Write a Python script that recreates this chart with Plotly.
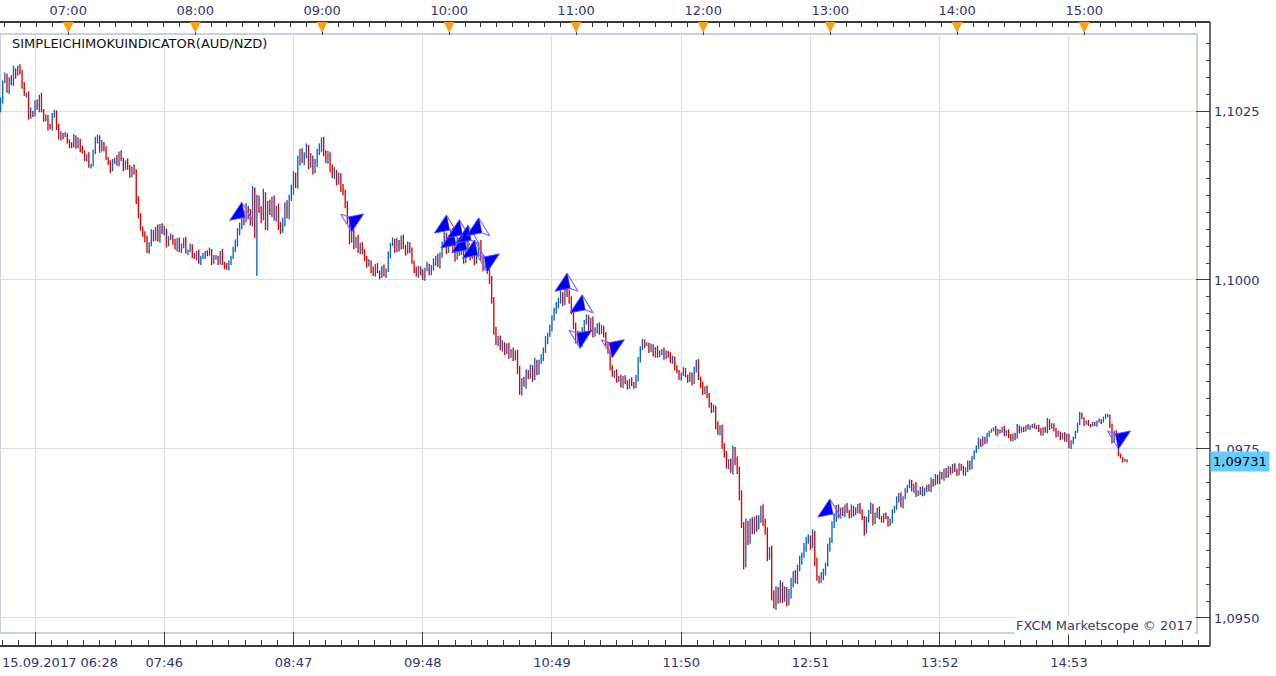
import plotly.graph_objects as go

# ---------------- data ----------------
first_open = 1.10251
closes = [
    1.10266, 1.10293, 1.10302, 1.10281, 1.10299, 1.10290, 1.10311, 1.10303, 1.10314, 1.10308,
    1.10288, 1.10274, 1.10275, 1.10240, 1.10249, 1.10246, 1.10263, 1.10254, 1.10272, 1.10251,
    1.10238, 1.10241, 1.10226, 1.10225, 1.10246, 1.10249, 1.10225, 1.10210, 1.10216, 1.10213,
    1.10214, 1.10206, 1.10200, 1.10198, 1.10213, 1.10198, 1.10207, 1.10194, 1.10189, 1.10180,
    1.10183, 1.10169, 1.10170, 1.10189, 1.10207, 1.10212, 1.10192, 1.10203, 1.10195, 1.10180,
    1.10173, 1.10163, 1.10176, 1.10180, 1.10172, 1.10188, 1.10178, 1.10166, 1.10175, 1.10167,
    1.10155, 1.10166, 1.10160, 1.10118, 1.10096, 1.10077, 1.10067, 1.10062, 1.10044, 1.10053,
    1.10071, 1.10062, 1.10077, 1.10059, 1.10080, 1.10071, 1.10074, 1.10052, 1.10062, 1.10065,
    1.10056, 1.10047, 1.10059, 1.10044, 1.10052, 1.10059, 1.10041, 1.10044, 1.10050, 1.10037,
    1.10033, 1.10041, 1.10027, 1.10033, 1.10035, 1.10041, 1.10038, 1.10044, 1.10027, 1.10033,
    1.10033, 1.10027, 1.10041, 1.10024, 1.10021, 1.10018, 1.10027, 1.10033, 1.10044, 1.10056,
    1.10071, 1.10081, 1.10098, 1.10089, 1.10107, 1.10096, 1.10086, 1.10133, 1.10071, 1.10118,
    1.10104, 1.10092, 1.10126, 1.10080, 1.10111, 1.10101, 1.10118, 1.10092, 1.10107, 1.10081,
    1.10074, 1.10086, 1.10111, 1.10096, 1.10121, 1.10133, 1.10155, 1.10141, 1.10177, 1.10189,
    1.10177, 1.10185, 1.10195, 1.10170, 1.10180, 1.10163, 1.10173, 1.10189, 1.10195, 1.10207,
    1.10189, 1.10177, 1.10185, 1.10166, 1.10155, 1.10160, 1.10145, 1.10154, 1.10136, 1.10130,
    1.10111, 1.10086, 1.10059, 1.10071, 1.10050, 1.10062, 1.10044, 1.10052, 1.10041, 1.10033,
    1.10022, 1.10027, 1.10015, 1.10009, 1.10021, 1.10012, 1.10006, 1.10018, 1.10007, 1.10015,
    1.10037, 1.10052, 1.10059, 1.10044, 1.10056, 1.10047, 1.10062, 1.10050, 1.10041, 1.10053,
    1.10044, 1.10027, 1.10015, 1.10007, 1.10018, 1.10012, 1.10003, 1.10015, 1.10022, 1.10012,
    1.10018, 1.10027, 1.10033, 1.10022, 1.10037, 1.10052, 1.10067, 1.10044, 1.10056, 1.10071,
    1.10047, 1.10033, 1.10059, 1.10041, 1.10052, 1.10030, 1.10062, 1.10044, 1.10035, 1.10050,
    1.10027, 1.10044, 1.10053, 1.10033, 1.10018, 1.10027, 1.10012, 1.10000, 1.09970, 1.09926,
    1.09908, 1.09914, 1.09899, 1.09905, 1.09893, 1.09902, 1.09889, 1.09896, 1.09885, 1.09893,
    1.09867, 1.09834, 1.09852, 1.09845, 1.09864, 1.09858, 1.09870, 1.09855, 1.09879, 1.09864,
    1.09879, 1.09885, 1.09896, 1.09911, 1.09919, 1.09929, 1.09944, 1.09953, 1.09963, 1.09970,
    1.09978, 1.09967, 1.09988, 1.09982, 1.09970, 1.09953, 1.09933, 1.09911, 1.09919, 1.09904,
    1.09926, 1.09938, 1.09944, 1.09929, 1.09941, 1.09919, 1.09926, 1.09933, 1.09923, 1.09929,
    1.09919, 1.09904, 1.09896, 1.09870, 1.09860, 1.09864, 1.09852, 1.09855, 1.09845, 1.09855,
    1.09849, 1.09843, 1.09852, 1.09846, 1.09843, 1.09855, 1.09882, 1.09899, 1.09908, 1.09904,
    1.09905, 1.09896, 1.09902, 1.09889, 1.09899, 1.09888, 1.09893, 1.09896, 1.09885, 1.09893,
    1.09889, 1.09879, 1.09885, 1.09870, 1.09864, 1.09855, 1.09861, 1.09867, 1.09858, 1.09852,
    1.09860, 1.09849, 1.09867, 1.09879, 1.09855, 1.09845, 1.09834, 1.09840, 1.09830, 1.09815,
    1.09808, 1.09811, 1.09785, 1.09775, 1.09781, 1.09756, 1.09741, 1.09726, 1.09731, 1.09719,
    1.09749, 1.09731, 1.09719, 1.09682, 1.09638, 1.09581, 1.09638, 1.09615, 1.09642, 1.09630,
    1.09645, 1.09636, 1.09648, 1.09660, 1.09642, 1.09627, 1.09592, 1.09601, 1.09533, 1.09519,
    1.09541, 1.09527, 1.09549, 1.09530, 1.09541, 1.09524, 1.09535, 1.09553, 1.09564, 1.09556,
    1.09574, 1.09586, 1.09593, 1.09604, 1.09615, 1.09618, 1.09608, 1.09624, 1.09583, 1.09559,
    1.09556, 1.09562, 1.09568, 1.09579, 1.09604, 1.09615, 1.09638, 1.09648, 1.09663, 1.09651,
    1.09660, 1.09654, 1.09666, 1.09657, 1.09651, 1.09663, 1.09654, 1.09660, 1.09667, 1.09657,
    1.09648, 1.09627, 1.09645, 1.09657, 1.09667, 1.09642, 1.09652, 1.09660, 1.09648, 1.09645,
    1.09652, 1.09648, 1.09639, 1.09645, 1.09657, 1.09663, 1.09675, 1.09682, 1.09667, 1.09678,
    1.09689, 1.09695, 1.09701, 1.09689, 1.09697, 1.09682, 1.09686, 1.09692, 1.09683, 1.09689,
    1.09695, 1.09689, 1.09704, 1.09698, 1.09710, 1.09701, 1.09713, 1.09707, 1.09719, 1.09710,
    1.09722, 1.09716, 1.09725, 1.09719, 1.09713, 1.09726, 1.09722, 1.09713, 1.09719, 1.09731,
    1.09722, 1.09737, 1.09746, 1.09752, 1.09763, 1.09756, 1.09766, 1.09760, 1.09771, 1.09775,
    1.09778, 1.09781, 1.09772, 1.09778, 1.09775, 1.09781, 1.09771, 1.09777, 1.09769, 1.09763,
    1.09772, 1.09766, 1.09784, 1.09775, 1.09781, 1.09778, 1.09784, 1.09780, 1.09783, 1.09786,
    1.09781, 1.09784, 1.09778, 1.09772, 1.09781, 1.09775, 1.09793, 1.09781, 1.09786, 1.09778,
    1.09769, 1.09775, 1.09766, 1.09772, 1.09763, 1.09771, 1.09752, 1.09760, 1.09766, 1.09775,
    1.09787, 1.09802, 1.09796, 1.09787, 1.09790, 1.09786, 1.09784, 1.09788, 1.09786, 1.09791,
    1.09793, 1.09790, 1.09796, 1.09799, 1.09800, 1.09784, 1.09760, 1.09775, 1.09772, 1.09741,
    1.09737, 1.09732, 1.09734, 1.09731,
]
# wick lengths beyond the body, in points (0.00001)
upper_wick_pts = [
    4, 2, 5, 3, 1, 4, 6, 2, 3, 5,  3, 5, 2, 4, 6, 1, 3, 4, 2, 5,
    2, 4, 3, 5, 1, 3, 2, 6, 4, 2,  5, 3, 2, 4, 3, 1, 4, 2, 5, 3,
    3, 6, 2, 4, 5, 3, 2, 4, 1, 3,  2, 4, 3, 1, 5, 2, 4, 3, 2, 5,
    3, 2, 5, 4, 6, 3, 2, 5, 4, 3,  4, 3, 2, 5, 3, 4, 6, 2, 3, 4,
    2, 5, 3, 4, 2, 3, 5, 1, 4, 3,  3, 2, 4, 3, 5, 2, 3, 4, 2, 4,
    4, 3, 2, 5, 3, 4, 2, 3, 5, 4,  6, 4, 8, 5, 7, 3, 9, 6, 4, 8,
    7, 5, 9, 4, 6, 8, 5, 7, 3, 6,  5, 6, 4, 7, 5, 8, 6, 4, 7, 5,
    6, 4, 7, 5, 8, 4, 6, 5, 7, 4,  5, 3, 6, 4, 5, 7, 3, 5, 4, 6,
    4, 6, 3, 5, 4, 2, 5, 3, 4, 5,  3, 4, 2, 5, 3, 4, 2, 3, 5, 2,
    5, 3, 4, 2, 6, 3, 4, 5, 2, 4,  3, 4, 2, 5, 3, 2, 4, 3, 5, 2,
    4, 5, 3, 6, 4, 5, 7, 3, 5, 4,  6, 4, 5, 3, 7, 4, 5, 6, 3, 5,
    4, 5, 3, 6, 4, 3, 5, 4, 6, 5,  5, 3, 4, 6, 3, 4, 5, 2, 4, 3,
    4, 6, 3, 5, 4, 3, 5, 4, 6, 3,  3, 5, 4, 6, 3, 5, 4, 6, 5, 4,
    6, 4, 7, 5, 4, 6, 5, 4, 6, 5,  4, 3, 5, 4, 3, 5, 4, 3, 4, 5,
    3, 4, 5, 3, 4, 2, 4, 3, 5, 3,  4, 3, 2, 4, 3, 5, 4, 3, 5, 4,
    3, 2, 4, 3, 2, 4, 3, 2, 4, 3,  2, 4, 3, 2, 4, 3, 2, 4, 3, 2,
    4, 3, 5, 3, 4, 2, 5, 3, 4, 3,  4, 5, 3, 6, 4, 5, 3, 6, 4, 5,
    6, 4, 8, 5, 7, 4, 9, 6, 5, 7,  5, 7, 4, 6, 8, 5, 7, 4, 6, 8,
    6, 5, 7, 4, 6, 5, 8, 6, 5, 7,  5, 6, 4, 7, 5, 6, 4, 7, 5, 6,
    4, 6, 5, 3, 6, 4, 5, 7, 4, 5,  3, 4, 2, 4, 3, 5, 3, 4, 2, 3,
    4, 3, 5, 3, 4, 2, 4, 3, 5, 3,  3, 4, 3, 2, 4, 3, 5, 3, 4, 2,
    3, 2, 4, 3, 2, 4, 3, 2, 3, 4,  2, 3, 4, 2, 3, 2, 4, 3, 2, 3,
    3, 2, 3, 4, 2, 3, 2, 3, 4, 2,  2, 3, 2, 3, 4, 2, 3, 2, 3, 2,
    2, 1, 3, 2, 1, 2, 3, 1, 2, 3,  1, 2, 3, 1, 2, 2, 1, 3, 2, 1,
    2, 1, 2, 3, 1, 2, 3, 1, 2, 2,  3, 2, 1, 2, 3, 2, 1, 3, 2, 2,
    2, 3, 2, 1, 2, 3, 1, 2, 2, 1,  2, 1, 2, 3, 2, 1, 3, 2, 3, 2,
    2, 1, 2, 1,
]
lower_wick_pts = [
    3, 5, 2, 4, 6, 2, 3, 5, 1, 4,  5, 2, 4, 3, 2, 5, 4, 2, 6, 3,
    4, 3, 5, 2, 4, 6, 3, 2, 4, 5,  2, 4, 5, 3, 2, 4, 3, 5, 2, 4,
    5, 3, 4, 2, 3, 5, 4, 2, 5, 3,  3, 5, 2, 4, 3, 4, 2, 5, 3, 4,
    4, 3, 4, 6, 5, 4, 3, 6, 4, 5,  3, 5, 4, 2, 4, 3, 5, 4, 2, 3,
    4, 2, 5, 3, 4, 5, 2, 4, 3, 5,  2, 4, 3, 5, 2, 4, 3, 2, 5, 3,
    3, 5, 4, 2, 5, 3, 4, 5, 2, 3,  7, 5, 6, 8, 4, 6, 5, 7, 9, 6,
    5, 8, 4, 6, 7, 5, 8, 4, 6, 7,  6, 4, 7, 5, 6, 4, 7, 5, 6, 8,
    4, 7, 5, 6, 4, 7, 5, 6, 4, 6,  6, 4, 5, 7, 4, 6, 5, 4, 6, 5,
    5, 3, 6, 4, 5, 3, 4, 6, 3, 5,  4, 2, 5, 3, 4, 2, 5, 3, 2, 4,
    3, 5, 2, 4, 3, 5, 2, 4, 5, 3,  4, 3, 5, 2, 4, 5, 3, 4, 2, 5,
    5, 4, 6, 3, 5, 4, 3, 6, 4, 5,  4, 6, 3, 5, 4, 6, 5, 3, 6, 4,
    5, 3, 6, 4, 5, 4, 3, 6, 5, 7,  4, 6, 3, 5, 4, 3, 6, 4, 5, 4,
    6, 4, 5, 3, 6, 5, 4, 6, 3, 5,  4, 3, 5, 4, 6, 3, 5, 4, 3, 5,
    5, 6, 4, 7, 5, 4, 6, 5, 7, 4,  3, 5, 4, 3, 5, 4, 3, 5, 4, 3,
    4, 3, 5, 4, 3, 5, 4, 3, 4, 5,  3, 5, 4, 3, 4, 3, 5, 4, 3, 5,
    2, 4, 3, 2, 4, 3, 2, 4, 3, 2,  4, 2, 3, 4, 2, 3, 4, 3, 2, 4,
    3, 5, 3, 4, 3, 5, 4, 3, 5, 4,  5, 4, 6, 4, 5, 6, 4, 5, 6, 4,
    7, 5, 6, 8, 5, 9, 6, 7, 5, 6,  6, 8, 5, 7, 6, 4, 8, 6, 7, 5,
    7, 6, 5, 8, 6, 7, 5, 6, 8, 5,  6, 5, 7, 4, 6, 5, 7, 5, 6, 4,
    5, 4, 6, 5, 3, 6, 4, 5, 6, 4,  4, 3, 5, 2, 4, 3, 4, 2, 5, 3,
    3, 5, 2, 4, 3, 5, 3, 4, 2, 4,  4, 2, 4, 3, 5, 2, 3, 4, 3, 5,
    2, 4, 3, 2, 4, 3, 2, 4, 3, 2,  3, 2, 3, 4, 2, 3, 3, 2, 4, 3,
    2, 4, 2, 3, 3, 2, 4, 2, 3, 3,  3, 2, 3, 2, 2, 3, 2, 3, 2, 3,
    1, 2, 2, 3, 2, 1, 2, 2, 3, 1,  2, 3, 1, 2, 1, 3, 2, 1, 2, 2,
    1, 2, 3, 2, 2, 1, 2, 3, 1, 2,  2, 1, 3, 2, 2, 3, 1, 2, 3, 1,
    1, 2, 2, 3, 1, 2, 2, 1, 2, 3,  2, 3, 1, 2, 2, 3, 2, 1, 2, 2,
    1, 2, 1, 1,
]
# a wick extreme that reaches far past the candle body (bar index -> price)
low_wick_override = {119: 1.10006}

# signal arrows: bar index and tip price
up_sig_idx = [112, 207, 213, 217, 222, 210, 215, 220, 263, 270, 385]
up_sig_price = [1.10115, 1.10096, 1.10089, 1.10081, 1.10092, 1.10074, 1.10067, 1.10059,
                1.10010, 1.09978, 1.09676]
dn_sig_idx = [163, 226, 269, 284, 519]
dn_sig_price = [1.10071, 1.10012, 1.09899, 1.09885, 1.09750]

# axis labels
bottom_tick_idx = [16, 76, 136, 196, 256, 316, 376, 436, 496]
bottom_tick_text = ["15.09.2017 06:28", "07:46", "08:47", "09:48", "10:49",
                    "11:50", "12:51", "13:52", "14:53"]
hour_tick_idx = [31.4, 90.4, 149.3, 208.3, 267.2, 326.2, 385.2, 444.1, 503.1]
hour_tick_text = ["07:00", "08:00", "09:00", "10:00", "11:00", "12:00",
                  "13:00", "14:00", "15:00"]

# ---------------- layout geometry ----------------
W, H = 1276, 676
MT, MB, MR = 22, 30, 66
PW, PH = W - MR, H - MT - MB          # paper area 1210 x 624
FRAME_R, FRAME_T, FRAME_B = 1197, 34, 633
BAR_PX, FIRST_PX = 2.154, 0.54
x_range = [-FIRST_PX / BAR_PX, (PW - FIRST_PX) / BAR_PX]
y_dom = [(PH + MT - FRAME_B) / PH, (PH + MT - FRAME_T) / PH]
y_range = [1.094778, 1.103639]
px_x = 1.0 / BAR_PX
px_y = (y_range[1] - y_range[0]) / ((y_dom[1] - y_dom[0]) * PH)
PT = 0.00001

def paper_y(py):
    return (PH + MT - py) / PH

BLUE = "#0b63c6"
RED = "#e00000"
TXT = "#33336e"
FONT = "DejaVu Sans"
FS = 13

# ---------------- bars ----------------
n = len(closes)
idx = list(range(n))
opens = [first_open] + closes[:-1]
highs = [max(o, c) + uw * PT for o, c, uw in zip(opens, closes, upper_wick_pts)]
lows = [min(o, c) - lw * PT for o, c, lw in zip(opens, closes, lower_wick_pts)]
for i, v in low_wick_override.items():
    lows[i] = v

fig = go.Figure()
fig.add_trace(go.Ohlc(
    x=idx, open=opens, high=highs, low=lows, close=closes,
    increasing=dict(line=dict(color=BLUE, width=1.35)),
    decreasing=dict(line=dict(color=RED, width=1.35)),
    tickwidth=0, hoverinfo="skip", showlegend=False,
))

# ---------------- signal arrows ----------------
UP_FILL = [(0, 0), (-12, 18), (3, 15)]
UP_OUT = [(0, 0), (3, 15), (11, 18), (0, 0)]

def build(sig_idx, sig_price, shape, sign):
    xs, ys = [], []
    for i, p in zip(sig_idx, sig_price):
        for dx, dy in shape:
            xs.append(i + sign * dx * px_x)
            ys.append(p - sign * dy * px_y)
        xs.append(None)
        ys.append(None)
    return xs, ys

fx1, fy1 = build(up_sig_idx, up_sig_price, UP_FILL, 1)
fx2, fy2 = build(dn_sig_idx, dn_sig_price, UP_FILL, -1)
ox1, oy1 = build(up_sig_idx, up_sig_price, UP_OUT, 1)
ox2, oy2 = build(dn_sig_idx, dn_sig_price, UP_OUT, -1)

fig.add_trace(go.Scatter(x=ox1 + ox2, y=oy1 + oy2, mode="lines",
                         line=dict(color="#7a6cff", width=1.2),
                         hoverinfo="skip", showlegend=False))
fig.add_trace(go.Scatter(x=fx1 + fx2, y=fy1 + fy2, mode="lines", fill="toself",
                         fillcolor="#0000f0", line=dict(color="#4a4aff", width=1),
                         hoverinfo="skip", showlegend=False))

# keeps the top (clock) axis attached to a trace
fig.add_trace(go.Scatter(x=hour_tick_idx, y=[y_range[1]] * len(hour_tick_idx),
                         xaxis="x2", yaxis="y", mode="markers",
                         marker=dict(size=1, opacity=0),
                         hoverinfo="skip", showlegend=False))

# orange hour markers under the top axis
hour_marks = []
for h in hour_tick_idx:
    hour_marks.append(dict(
        type="path", xref="x", yref="paper", layer="above",
        path=(f"M {h - 5.5 * px_x},{paper_y(22)} L {h + 5.5 * px_x},{paper_y(22)} "
              f"L {h},{paper_y(33)} Z"),
        fillcolor="#f6a21e", line=dict(width=0),
    ))

AX = "#3a3a3a"
fig.update_layout(
    width=W, height=H,
    margin=dict(l=0, r=MR, t=MT, b=MB, pad=0),
    paper_bgcolor="white", plot_bgcolor="white",
    separators=",.",
    font=dict(family=FONT, size=FS, color=TXT),
    showlegend=False,
    xaxis=dict(
        domain=[0, 1], range=x_range, anchor="free", position=0,
        tickmode="array", tickvals=bottom_tick_idx,
        ticktext=[""] + bottom_tick_text[1:],
        ticks="inside", ticklen=13, tickcolor=AX, tickwidth=1,
        showline=True, linecolor=AX, linewidth=1.5,
        showgrid=True, gridcolor="#dedede", gridwidth=1, zeroline=False,
        rangeslider=dict(visible=False),
        tickfont=dict(family=FONT, size=FS, color=TXT), ticklabelstandoff=5,
        minor=dict(tick0=bottom_tick_idx[0], dtick=7.5, ticks="inside", ticklen=5,
                   tickcolor=AX, showgrid=False),
    ),
    xaxis2=dict(
        overlaying="x", matches="x", side="top", anchor="free", position=1,
        tickmode="array", tickvals=hour_tick_idx, ticktext=hour_tick_text,
        ticks="inside", ticklen=12, tickcolor=AX, tickwidth=1,
        showline=True, linecolor=AX, linewidth=1.5, showgrid=False, zeroline=False,
        tickfont=dict(family=FONT, size=FS, color=TXT), ticklabelstandoff=1,
        minor=dict(tick0=hour_tick_idx[0], dtick=7.37, ticks="inside", ticklen=4,
                   tickcolor=AX, showgrid=False),
    ),
    yaxis=dict(
        domain=y_dom, range=y_range, side="right", anchor="free", position=1,
        tick0=1.095, dtick=0.0025, tickformat=".4f",
        ticks="inside", ticklen=14, tickcolor=AX, tickwidth=1,
        showline=False, showgrid=True, gridcolor="#dedede", gridwidth=1, zeroline=False,
        tickfont=dict(family=FONT, size=FS, color=TXT), ticklabelstandoff=3,
        minor=dict(dtick=0.00025, ticks="inside", ticklen=4, tickcolor=AX, showgrid=False),
    ),
    shapes=[
        dict(type="rect", xref="paper", yref="paper", x0=0, x1=FRAME_R / PW,
             y0=y_dom[0], y1=y_dom[1], line=dict(color="#c8d1dc", width=2), layer="below"),
        dict(type="line", xref="paper", yref="paper", x0=1, x1=1, y0=0, y1=1,
             line=dict(color=AX, width=1.5)),
    ] + hour_marks,
    annotations=[
        dict(text="SIMPLEICHIMOKUINDICATOR(AUD/NZD)", xref="paper", yref="paper",
             x=10 / PW, y=paper_y(44), xanchor="left", yanchor="middle", showarrow=False,
             font=dict(family=FONT, size=FS, color="#111111")),
        dict(text=bottom_tick_text[0], xref="paper", yref="paper", x=0, y=paper_y(662),
             xanchor="left", yanchor="middle", showarrow=False,
             font=dict(family=FONT, size=FS, color=TXT)),
        dict(text="FXCM Marketscope © 2017", xref="paper", yref="paper",
             x=(FRAME_R - 2) / PW, y=paper_y(625), xanchor="right", yanchor="middle",
             showarrow=False, bgcolor="white",
             font=dict(family=FONT, size=13, color="#3c3c5c")),
        dict(text=f"{closes[-1]:.5f}".replace(".", ","), xref="paper", yref="y",
             x=1, y=closes[-1], xanchor="left", yanchor="middle", showarrow=False,
             bgcolor="#66ccff", borderpad=2,
             font=dict(family=FONT, size=13, color="#000000")),
    ],
)

fig.write_html("out.html")
